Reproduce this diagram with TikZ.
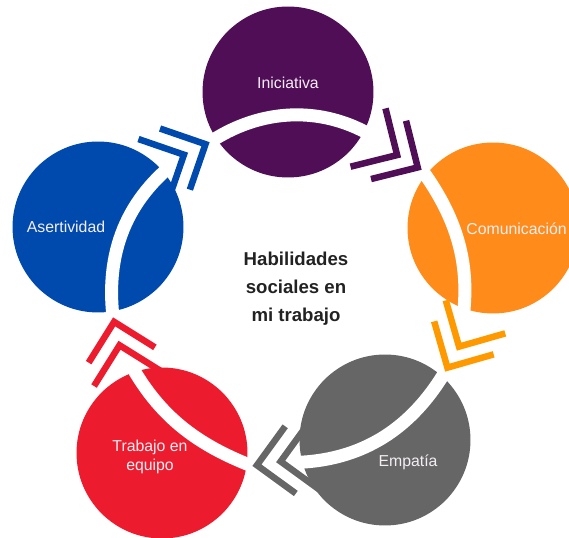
\documentclass[tikz,border=0pt]{standalone}
\usepackage{fontspec}
\setmainfont{Liberation Sans}
\usetikzlibrary{positioning, calc}
\definecolor{cIni}{HTML}{500E57}
\definecolor{cCom}{HTML}{FF8C1A}
\definecolor{cComArr}{HTML}{FF9900}
\definecolor{cEmp}{HTML}{666666}
\definecolor{cTra}{HTML}{EC1C2E}
\definecolor{cAse}{HTML}{004AAD}
\definecolor{cTxt}{HTML}{F4EEF4}
\definecolor{cTitle}{HTML}{222222}
\tikzset{
  chevrons/.pic={
    \draw[line width=0.13cm, line join=miter] (-39,34) -- (-5,0) -- (-39,-34);
    \draw[line width=0.13cm, line join=miter] (-63,34) -- (-29,0) -- (-63,-34);
  }
}
\begin{document}
\begin{tikzpicture}[x=0.02cm, y=0.02cm,
  circ/.style={circle, minimum size=3.42cm, inner sep=0pt},
  lbl/.style={text=cTxt, font=\fontsize{9}{10.5}\selectfont, align=center},
  band/.style={draw=white, line width=0.26cm}]
\useasboundingbox (0,0) rectangle (569,538);
% circles
\node (ini) [circ, fill=cIni] at (288,446) {};
\node (com) [circ, fill=cCom] at (493,310) {};
\node (emp) [circ, fill=cEmp] at (385,98) {};
\node (tra) [circ, fill=cTra] at (162,85) {};
\node (ase) [circ, fill=cAse] at (98,311) {};
% chevron tips
\coordinate (outAse) at (210,396);
\coordinate (outIni) at (422,368);
\coordinate (outCom) at (445,166);
\coordinate (outEmp) at (252,72);
\coordinate (outTra) at (113,221);
\coordinate (inAse) at ($(outAse)+(206:24)$);
\coordinate (inIni) at ($(outIni)+(149:24)$);
\coordinate (inCom) at ($(outCom)+(61:24)$);
\coordinate (inEmp) at ($(outEmp)+(9:24)$);
\coordinate (inTra) at ($(outTra)+(283:24)$);
% white bands
\draw[band] (outAse) to[bend left=38] (inIni);
\draw[band] (outIni) to[bend left=25] (inCom);
\draw[band] (outCom) to[bend left=31] (inEmp);
\draw[band] (outEmp) to[bend left=22] (inTra);
\draw[band] (outTra) to[bend left=31] (inAse);
% chevrons
\pic[color=cAse, rotate=26] at (outAse) {chevrons};
\pic[color=cIni, rotate=-31] at (outIni) {chevrons};
\pic[color=cComArr, rotate=241] at (outCom) {chevrons};
\pic[color=cEmp, rotate=189] at (outEmp) {chevrons};
\pic[color=cTra, rotate=103] at (outTra) {chevrons};
% labels
\node (tIni) [lbl] at (288,455) {Iniciativa};
\node (tCom) [lbl, anchor=east, inner sep=0pt] at (567,309) {Comunicación};
\node (tEmp) [lbl] at (408,76) {Empatía};
\node (tTra) [lbl] at (150,81) {Trabajo en\\equipo};
\node (tAse) [lbl] at (66,311) {Asertividad};
\node (titulo) [text=cTitle, font=\bfseries\fontsize{10.6}{16}\selectfont, align=center] at (296,249) {Habilidades\\sociales en\\mi trabajo};
\end{tikzpicture}
\end{document}
